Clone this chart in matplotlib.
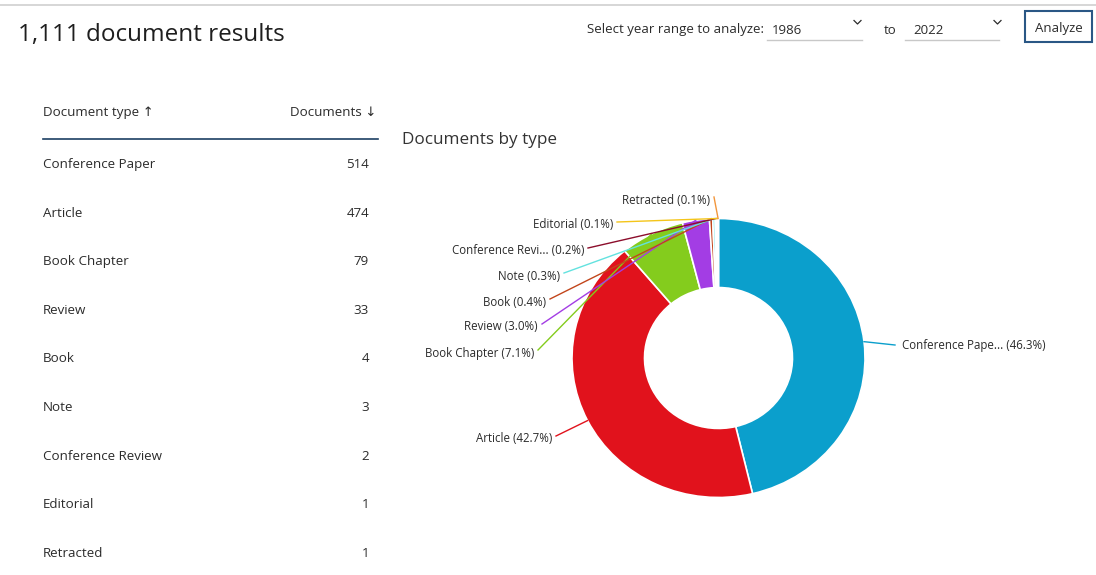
import numpy as np
import matplotlib
matplotlib.use("Agg")
import matplotlib.pyplot as plt

# ---- data ----
doc_types = ["Conference Paper", "Article", "Book Chapter", "Review", "Book",
             "Note", "Conference Review", "Editorial", "Retracted"]
doc_counts = [514, 474, 79, 33, 4, 3, 2, 1, 1]
slice_colors = ["#0b9fcc", "#e1121c", "#84cc1d", "#a33de4", "#c2461c",
                "#63e2df", "#8c0d2b", "#f4c51a", "#f2963c"]
title_text = "1,111 document results"
year_from = "1986"
year_to = "2022"

W, H = 1096, 575
plt.rcParams['font.family'] = ['Open Sans', 'DejaVu Sans']

fig = plt.figure(figsize=(W / 100, H / 100), dpi=100)
fig.patch.set_facecolor("white")

# donut axes (slightly elliptical like the screenshot)
cx, cy, rx, ry = 718.5, 358.0, 146.5, 139.5
dax = fig.add_axes([(cx - rx) / W, 1 - (cy + ry) / H, 2 * rx / W, 2 * ry / H])
wedges, _ = dax.pie(doc_counts, colors=slice_colors, startangle=90, counterclock=False,
                    radius=1.0, wedgeprops=dict(width=0.495, edgecolor="white", linewidth=1.2))
dax.set_aspect("auto")
dax.set_xlim(-1, 1)
dax.set_ylim(-1, 1)
dax.axis("off")

# overlay axes in pixel coordinates (y measured from top)
ax = fig.add_axes([0, 0, 1, 1])
ax.set_xlim(0, W)
ax.set_ylim(H, 0)
ax.axis("off")
ax.patch.set_alpha(0)

txt = "#2b2b2b"
dy = 1.5  # small baseline correction
# browser top border
ax.plot([0, W], [5, 5], color="#cfcfcf", lw=1.2)
ax.text(18, 33 + dy, title_text, fontsize=17.5, color="#1e1e1e", va="center", ha="left")

# year range selector
ax.text(587, 28 + dy, "Select year range to analyze:", fontsize=9.5, color=txt, va="center")
ax.text(772, 29 + dy, year_from, fontsize=9.5, color=txt, va="center")
ax.plot([767, 862], [39.5, 39.5], color="#c8c8c8", lw=1)
ax.plot([854, 857.5, 861], [20.5, 24, 20.5], color=txt, lw=0.9)
ax.text(884, 29 + dy, "to", fontsize=9.5, color=txt, va="center")
ax.text(913, 29 + dy, year_to, fontsize=9.5, color=txt, va="center")
ax.plot([905, 999], [39.5, 39.5], color="#c8c8c8", lw=1)
ax.plot([994, 997.5, 1001], [20.5, 24, 20.5], color=txt, lw=0.9)
ax.add_patch(plt.Rectangle((1025, 11), 67, 31, fill=False, edgecolor="#2a5785", lw=1.5))
ax.text(1058.5, 27 + dy, "Analyze", fontsize=9.5, color=txt, ha="center", va="center")

# table
ax.text(43, 111 + dy, "Document type \u2191", fontsize=9.6, color=txt, va="center")
ax.text(376, 111 + dy, "Documents \u2193", fontsize=9.6, color=txt, va="center", ha="right")
ax.plot([43, 378], [139, 139], color="#1d3f63", lw=1.2)
row_y0, row_dy = 163, 48.6
for i, (name, n) in enumerate(zip(doc_types, doc_counts)):
    y = row_y0 + i * row_dy + dy
    ax.text(43, y, name, fontsize=9.6, color=txt, va="center")
    ax.text(369, y, str(n), fontsize=9.6, color=txt, va="center", ha="right")

ax.text(402, 139 + dy, "Documents by type", fontsize=12.3, color="#333333", va="center")

# labels with leader lines
total = sum(doc_counts)
cum = np.cumsum([0] + doc_counts)
# label anchors (x of line end, y) and alignment
label_pos = [(895, 345, "left"), (556, 438, "right"), (538, 352, "right"),
             (542, 326, "right"), (550, 301, "right"), (564, 275, "right"),
             (588, 250, "right"), (617, 224, "right"), (714, 199, "right")]


def short(name):
    return name if len(name) <= 15 else name[:15] + "..."


for i, (name, n) in enumerate(zip(doc_types, doc_counts)):
    mid = (cum[i] + cum[i + 1]) / 2 / total * 360.0
    theta = np.deg2rad(90 - mid)
    ex = cx + rx * np.cos(theta)
    ey = cy - ry * np.sin(theta)
    lx, ly, ha = label_pos[i]
    pct = 100.0 * n / total
    label = f"{short(name)} ({pct:.1f}%)"
    ax.plot([lx, ex], [ly - 2 if ha == "right" else ly, ey], color=slice_colors[i], lw=1.0)
    tx = lx + 7 if ha == "left" else lx - 4
    ax.text(tx, ly + 1, label, fontsize=8.3, color=txt, va="center", ha=ha)

fig.savefig("out.png", dpi=100, facecolor="white")
